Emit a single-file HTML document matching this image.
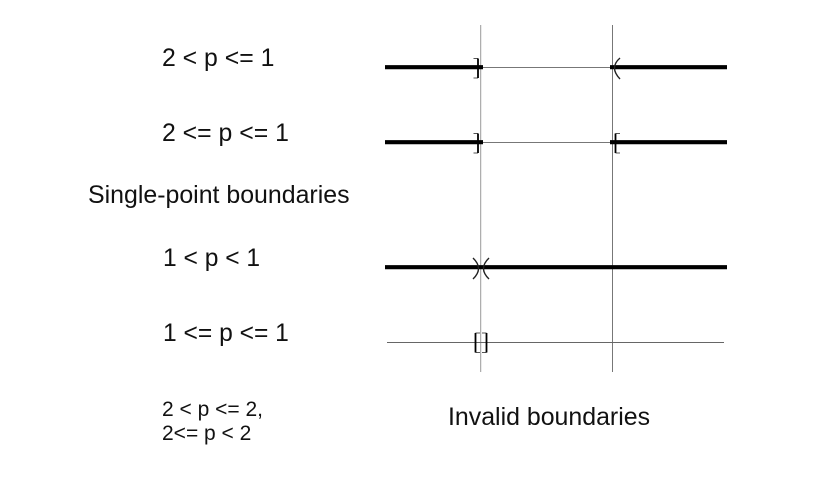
<!DOCTYPE html>
<html>
<head>
<meta charset="utf-8">
<style>
html,body{margin:0;padding:0;background:#fff;width:819px;height:500px;overflow:hidden}
svg{display:block}
text{font-family:"Liberation Sans",sans-serif;fill:#111}
</style>
</head>
<body>
<svg width="819" height="500" viewBox="0 0 819 500" xmlns="http://www.w3.org/2000/svg">
<rect width="819" height="500" fill="#fff"/>
<text x="162" y="66" font-size="24.8">2 &lt; p &lt;= 1</text>
<text x="162" y="141" font-size="24.8">2 &lt;= p &lt;= 1</text>
<text x="88" y="203" font-size="24.9">Single-point boundaries</text>
<text x="163" y="266" font-size="24.6">1 &lt; p &lt; 1</text>
<text x="163" y="341" font-size="24.6">1 &lt;= p &lt;= 1</text>
<text x="162" y="416" font-size="21">2 &lt; p &lt;= 2,</text>
<text x="162" y="440" font-size="21">2&lt;= p &lt; 2</text>
<text x="448" y="425" font-size="24.9">Invalid boundaries</text>

<line x1="480.7" y1="25" x2="480.7" y2="372" stroke="#999" stroke-width="1"/>
<line x1="612.5" y1="25" x2="612.5" y2="372" stroke="#777" stroke-width="1"/>

<line x1="482" y1="67.5" x2="611" y2="67.5" stroke="#777" stroke-width="1"/>
<line x1="482" y1="142.5" x2="611" y2="142.5" stroke="#777" stroke-width="1"/>
<line x1="387" y1="342.5" x2="724" y2="342.5" stroke="#666" stroke-width="1"/>

<g stroke="#000" stroke-width="4.2" fill="none">
<line x1="385" y1="67.2" x2="483" y2="67.2"/>
<line x1="610" y1="67.2" x2="727" y2="67.2"/>
<line x1="385" y1="142.2" x2="483" y2="142.2"/>
<line x1="610" y1="142.2" x2="727" y2="142.2"/>
<line x1="385" y1="267.2" x2="727" y2="267.2"/>
</g>

<g fill="none" stroke="#555" stroke-width="1">
<path d="M473.500 58.500H478M473.500 78H478"/>
<path d="M473.500 133.500H478M473.500 153H478"/>
<path d="M620 133.500H615.500M620 153H615.500"/>
<path d="M480 333H475.500M480 352.500H475.500"/>
<path d="M482 333H486.500M482 352.500H486.500"/>
</g>
<g fill="none" stroke="#222" stroke-width="1.4">
<path d="M620 58Q609 67.500 620 79"/>
<path d="M473 258Q484 268.500 473 279"/>
<path d="M489 258Q478 268.500 489 279"/>
</g>
<g fill="none" stroke="#000" stroke-width="1.8">
<path d="M478 58.500V78"/>
<path d="M478 133.500V153"/>
<path d="M615.500 133.500V153"/>
<path d="M475.500 333V352.500"/>
<path d="M486.500 333V352.500"/>
</g>
</svg>
</body>
</html>
